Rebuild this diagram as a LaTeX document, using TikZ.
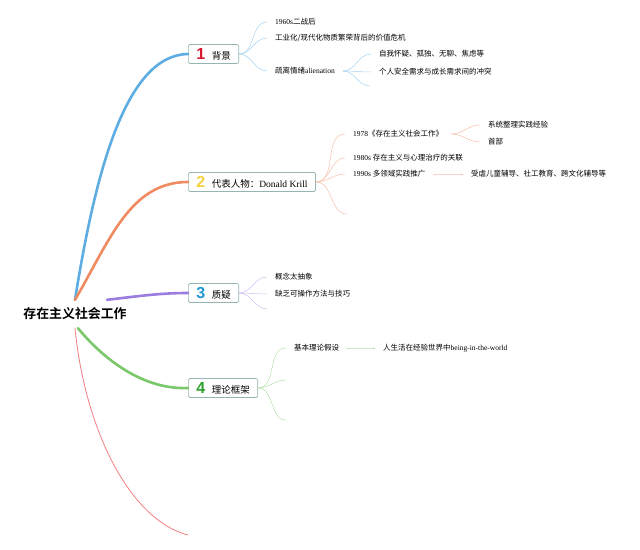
\documentclass[tikz,border=0pt]{standalone}
\usepackage{fontspec}
\setmainfont{Liberation Serif}
\newfontfamily\cjk{Noto Sans CJK SC}[BoldFont={* Bold}]
\newfontfamily\numfont{Liberation Sans}
\usetikzlibrary{positioning}

\definecolor{brBlue}{RGB}{93,173,226}
\definecolor{brOrange}{RGB}{240,138,96}
\definecolor{brPurple}{RGB}{155,125,225}
\definecolor{brGreen}{RGB}{122,200,105}
\definecolor{brPink}{RGB}{240,125,130}
\definecolor{numRed}{RGB}{215,25,50}
\definecolor{numYellow}{RGB}{245,210,60}
\definecolor{numBlue}{RGB}{35,150,210}
\definecolor{numGreen}{RGB}{45,160,45}
\definecolor{boxLine}{RGB}{150,180,180}

\newcommand{\zh}[1]{{\cjk #1}}
\newcommand{\topicnum}[2]{{\numfont\bfseries\fontsize{16}{16}\selectfont\color{#1}#2}\hspace{6.5pt}}

\begin{document}
\begin{tikzpicture}[
  x=1pt, y=-1pt,
  rootnode/.style={inner xsep=2pt, minimum height=28pt, font=\fontsize{12.9}{14}\selectfont\bfseries},
  topic/.style={draw=boxLine, fill=white, rounded corners=1.5pt, line width=0.7pt,
                minimum height=19pt, inner xsep=8pt, anchor=west, font=\fontsize{9.5}{11}\selectfont},
  leaf/.style={inner xsep=8pt, inner ysep=1pt, anchor=west, font=\fontsize{7.5}{9}\selectfont},
  branch/.style={line width=2.6pt, line cap=round},
  twig/.style={line width=0.5pt, out=0, in=180}
]
  \useasboundingbox (0,0) rectangle (640,549);

  % central topic
  \node[rootnode] (root) at (75,314) {\zh{存在主义社会工作}};

  % main topics
  \node[topic] (b1) at (188,54)  {\topicnum{numRed}{1}\zh{背景}};
  \node[topic] (b2) at (188,182) {\topicnum{numYellow}{2}\zh{代表人物：}Donald Krill};
  \node[topic] (b3) at (188,293) {\topicnum{numBlue}{3}\zh{质疑}};
  \node[topic] (b4) at (188,388) {\topicnum{numGreen}{4}\zh{理论框架}};
  \coordinate (b5) at (188,535);

  \draw[branch, brBlue]   (root.north) .. controls (95,175) and (125,55) .. (b1.west);
  \draw[branch, brOrange] (root.north) .. controls (110,240) and (130,182) .. (b2.west);
  \draw[branch, brPurple] ([xshift=32pt]root.north) .. controls (140,296) and (160,293) .. (b3.west);
  \draw[branch, brGreen]  ([xshift=3pt]root.south) .. controls (100,355) and (140,390) .. (b4.west);
  \draw[line width=0.8pt, brPink] (root.south) .. controls (85,430) and (130,520) .. (b5);

  % 1 背景
  \node[leaf] (c11) at (267,22) {1960s\zh{二战后}};
  \node[leaf] (c12) at (267,38) {\zh{工业化/现代化物质繁荣背后的价值危机}};
  \node[leaf] (c13) at (267,71) {\zh{疏离情绪}alienation};
  \node[leaf] (c131) at (371,54) {\zh{自我怀疑、孤独、无聊、焦虑等}};
  \node[leaf] (c132) at (371,72) {\zh{个人安全需求与成长需求间的冲突}};
  \coordinate (c133) at (370,86);
  \foreach \c in {c11,c12,c13}
    \draw[twig, brBlue!55] (b1.east) to (\c.west);
  \foreach \c in {c131,c132}
    \draw[twig, brBlue!55] (c13.east) to (\c.west);
  \draw[twig, brBlue!55] (c13.east) to (c133);

  % 2 代表人物
  \node[leaf] (c21) at (345,134) {1978\zh{《存在主义社会工作》}};
  \node[leaf] (c22) at (345,158) {1980s \zh{存在主义与心理治疗的关联}};
  \node[leaf] (c23) at (345,174) {1990s \zh{多领域实践推广}};
  \coordinate (c24) at (347,214);
  \node[leaf] (c211) at (480,125) {\zh{系统整理实践经验}};
  \node[leaf] (c212) at (480,142) {\zh{首部}};
  \node[leaf] (c231) at (463,174) {\zh{受虐儿童辅导、社工教育、跨文化辅导等}};
  \foreach \c in {c21,c22,c23}
    \draw[twig, brOrange!55] (b2.east) to (\c.west);
  \draw[twig, brOrange!55] (b2.east) to (c24);
  \foreach \c in {c211,c212}
    \draw[twig, brOrange!55] (c21.east) to (\c.west);
  \draw[twig, brOrange!55] (c23.east) to (c231.west);

  % 3 质疑
  \node[leaf] (c31) at (267,277) {\zh{概念太抽象}};
  \node[leaf] (c32) at (267,294) {\zh{缺乏可操作方法与技巧}};
  \coordinate (c33) at (267,309);
  \foreach \c in {c31,c32}
    \draw[twig, brPurple!50] (b3.east) to (\c.west);
  \draw[twig, brPurple!50] (b3.east) to (c33);

  % 4 理论框架
  \node[leaf] (c41) at (286,348) {\zh{基本理论假设}};
  \coordinate (c42) at (286,380);
  \coordinate (c43) at (286,420);
  \node[leaf] (c411) at (375,348) {\zh{人生活在经验世界中}being-in-the-world};
  \draw[twig, brGreen!55] (b4.east) to (c41.west);
  \draw[twig, brGreen!55] (b4.east) to (c42);
  \draw[twig, brGreen!55] (b4.east) to (c43);
  \draw[twig, brGreen!55] (c41.east) to (c411.west);
\end{tikzpicture}
\end{document}
